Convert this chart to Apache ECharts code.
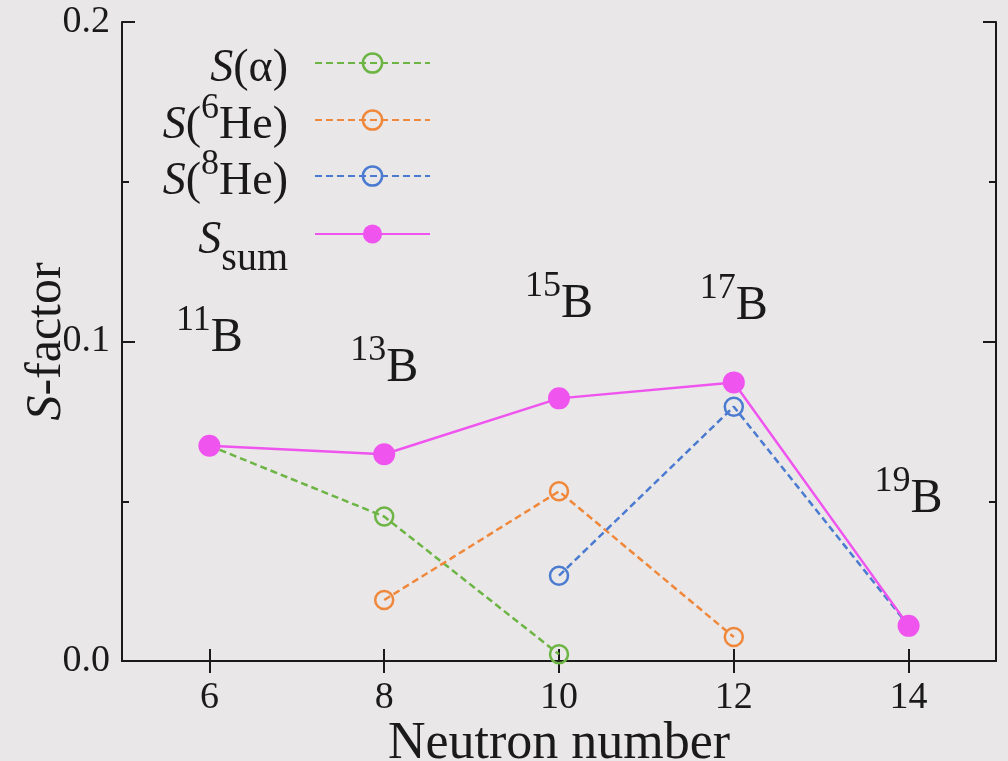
<!DOCTYPE html>
<html>
<head>
<meta charset="utf-8">
<script src="https://cdn.jsdelivr.net/npm/echarts@6/dist/echarts.min.js"></script>
<style>
  html, body { margin: 0; padding: 0; background: #e9e7e8; }
  #chart { width: 1008px; height: 761px; }
</style>
</head>
<body>
<div id="chart"></div>
<script>
// Neutron numbers of the boron isotopes 11B ... 19B
const neutrons = [6, 8, 10, 12, 14];
// Spectroscopic factors per cluster channel (null = channel not present)
const sAlpha = [0.0674, 0.0452, 0.0021, null, null];
const sHe6 = [null, 0.0191, 0.0531, 0.0075, null];
const sHe8 = [null, null, 0.0267, 0.0796, 0.011];
const sSum = [0.0674, 0.0647, 0.0822, 0.0872, 0.011];
// Isotope annotations: mass numbers and the S-factor level they sit at
const massNumbers = ['11', '13', '15', '17', '19'];
const isotopeLevel = [0.1028, 0.0935, 0.1135, 0.1128, 0.0524];
// Axis ticks
const xTicks = [6, 8, 10, 12, 14];
const yTicks = [0, 0.1, 0.2];
// Legend entries, top to bottom
const seriesNames = ['S(α)', 'S(6He)', 'S(8He)', 'Ssum'];

const FONT = '"Liberation Serif", "DejaVu Serif", serif';
const INK = '#1a1a1a';
const COLORS = { alpha: '#6cb443', he6: '#f0883b', he8: '#4a7bd0', sum: '#ef55ee' };

const pairs = vals => neutrons.map((n, i) => [n, vals[i]]);

const legendLabels = {
  'S(α)': '{i|S}{t|(α)}',
  'S(6He)': '{i|S}{t|(}{sup|6}{t|He)}',
  'S(8He)': '{i|S}{t|(}{sup|8}{t|He)}',
  'Ssum': '{is|S}{sub|sum}'
};
// one legend box per entry so each row sits at its own height
const legendTops = [46, 91, 147, 218];

const legendText = {
  fontFamily: FONT, fontSize: 46, color: INK, padding: [0, 22, 0, 0],
  rich: {
    i: { fontFamily: FONT, fontSize: 46, fontStyle: 'italic', color: INK, verticalAlign: 'bottom', padding: [19, 0, 7, 0] },
    t: { fontFamily: FONT, fontSize: 46, color: INK, verticalAlign: 'bottom', padding: [19, 0, 7, 0] },
    sup: { fontFamily: FONT, fontSize: 36, color: INK, verticalAlign: 'bottom', padding: [0, 0, 29, 0] },
    is: { fontFamily: FONT, fontSize: 46, fontStyle: 'italic', color: INK, verticalAlign: 'bottom', padding: [29, 0, 15, 0] },
    sub: { fontFamily: FONT, fontSize: 40, color: INK, verticalAlign: 'bottom' }
  }
};

const legends = seriesNames.map((name, k) => ({
  orient: 'vertical', align: 'right',
  right: 577, top: legendTops[k], padding: 0,
  itemWidth: 115, itemHeight: 24,
  data: [name],
  formatter: n => legendLabels[n],
  selectedMode: false,
  itemStyle: { borderWidth: 2.5 },
  textStyle: legendText
}));

function openSeries(name, vals, color) {
  return {
    name, type: 'line', data: pairs(vals), xAxisIndex: 0, yAxisIndex: 0,
    symbol: 'circle', symbolSize: 18,
    itemStyle: { color: 'rgba(0,0,0,0)', borderColor: color, borderWidth: 2.5 },
    lineStyle: { color, width: 2.5, type: [7, 4] },
    emphasis: { disabled: true },
    z: 2
  };
}

const chart = echarts.init(document.getElementById('chart'));
const baseAxisLine = { show: true, lineStyle: { color: INK, width: 2 } };
const tickStyle = { color: INK, width: 2 };

chart.setOption({
  backgroundColor: '#e9e7e8',
  animation: false,
  grid: { left: 122, right: 12, top: 22, bottom: 100, containLabel: false, outerBoundsMode: 'none' },
  xAxis: [{
    type: 'value', min: 5, max: 15, position: 'bottom',
    name: 'Neutron number', nameLocation: 'middle', nameGap: 57, nameMoveOverlap: false,
    nameTextStyle: { fontFamily: FONT, fontSize: 52, color: INK },
    axisLine: baseAxisLine,
    axisTick: { show: true, inside: true, length: 12, lineStyle: tickStyle, customValues: xTicks },
    axisLabel: { margin: 18, fontFamily: FONT, fontSize: 38, color: INK, customValues: xTicks },
    splitLine: { show: false }
  }, {
    type: 'value', min: 5, max: 15, position: 'top',
    axisLine: baseAxisLine,
    axisTick: { show: true, inside: true, length: 12, lineStyle: tickStyle, customValues: xTicks },
    axisLabel: { show: false },
    splitLine: { show: false }
  }],
  yAxis: [{
    type: 'value', min: 0, max: 0.2, interval: 0.1, position: 'left',
    name: '{i|S}{t|-factor}', nameLocation: 'middle', nameGap: 50, nameRotate: 90, nameMoveOverlap: false,
    nameTextStyle: {
      fontFamily: FONT, fontSize: 50, color: INK,
      rich: {
        i: { fontFamily: FONT, fontSize: 50, fontStyle: 'italic', color: INK },
        t: { fontFamily: FONT, fontSize: 50, color: INK }
      }
    },
    axisLine: baseAxisLine,
    axisTick: { show: true, inside: true, length: 13, lineStyle: tickStyle },
    minorTick: { show: true, splitNumber: 2, length: 7, lineStyle: tickStyle },
    axisLabel: {
      margin: 12, fontFamily: FONT, fontSize: 38, color: INK,
      customValues: yTicks, formatter: v => v.toFixed(1)
    },
    splitLine: { show: false }, minorSplitLine: { show: false }
  }, {
    type: 'value', min: 0, max: 0.2, interval: 0.1, position: 'right',
    axisLine: baseAxisLine,
    axisTick: { show: true, inside: true, length: 13, lineStyle: tickStyle },
    minorTick: { show: true, splitNumber: 2, length: 7, lineStyle: tickStyle },
    axisLabel: { show: false },
    splitLine: { show: false }, minorSplitLine: { show: false }
  }],
  legend: legends,
  series: [
    openSeries(seriesNames[0], sAlpha, COLORS.alpha),
    openSeries(seriesNames[1], sHe6, COLORS.he6),
    openSeries(seriesNames[2], sHe8, COLORS.he8),
    {
      name: seriesNames[3], type: 'line', data: pairs(sSum),
      symbol: 'circle', symbolSize: 22,
      itemStyle: { color: COLORS.sum },
      lineStyle: { color: COLORS.sum, width: 2.5 },
      emphasis: { disabled: true },
      z: 3
    },
    {
      // isotope name annotations
      type: 'scatter', symbolSize: 0, silent: true,
      itemStyle: { opacity: 1 },
      data: neutrons.map((n, i) => ({ value: [n, isotopeLevel[i]], mass: massNumbers[i] })),
      label: {
        show: true, position: 'inside', color: INK, textBorderWidth: 0,
        formatter: p => '{sup|' + p.data.mass + '}{b|B}',
        rich: {
          sup: { fontFamily: FONT, fontSize: 36, color: INK, verticalAlign: 'bottom', padding: [0, 0, 24, 0] },
          b: { fontFamily: FONT, fontSize: 48, color: INK, verticalAlign: 'bottom' }
        }
      },
      z: 4
    }
  ]
});
</script>
</body>
</html>
